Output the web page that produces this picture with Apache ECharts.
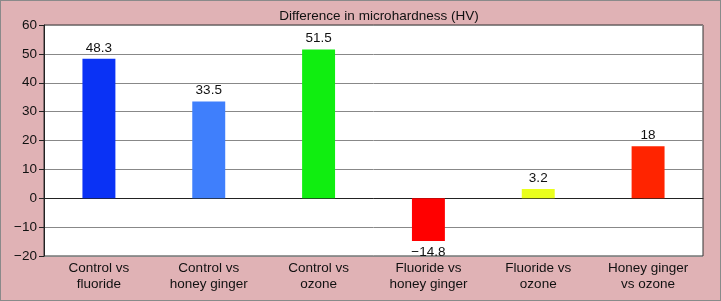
<!DOCTYPE html>
<html><head><meta charset="utf-8">
<script src="https://cdn.jsdelivr.net/npm/echarts@6/dist/echarts.min.js"></script>
<style>html,body{margin:0;padding:0;background:#e0b2b5;}#c{width:721px;height:301px;box-sizing:border-box;border:1px solid #8a8a8a;}</style>
</head><body><div id="c"></div>
<script>
const categories = ["Control vs\nfluoride","Control vs\nhoney ginger","Control vs\nozone","Fluoride vs\nhoney ginger","Fluoride vs\nozone","Honey ginger\nvs ozone"];
const values = [48.3, 33.5, 51.5, -14.8, 3.2, 18];
const barColors = ["#0a32f5","#3f7ffc","#10ee10","#ff0000","#eaff1c","#ff2400"];
const title = "Difference in microhardness (HV)";
const minus = v => String(v).replace('-', '\u2212');
const chart = echarts.init(document.getElementById('c'), null, {renderer:'canvas'});
chart.setOption({
  animation:false,
  backgroundColor:'#e0b2b5',
  title:{text:title,left:373,top:3,textAlign:'center',textStyle:{fontFamily:'Liberation Sans',fontSize:13.5,fontWeight:'normal',color:'#111'}},
  grid:{left:43,right:17,top:24,bottom:44,show:true,backgroundColor:'#fff',borderColor:'#333',borderWidth:1},
  xAxis:{type:'category',data:categories,axisTick:{show:false},axisLine:{lineStyle:{color:'#222'}},
    axisLabel:{fontFamily:'Liberation Sans',fontSize:13.5,color:'#111',lineHeight:15.5,margin:5,interval:0}},
  yAxis:{type:'value',min:-20,max:60,interval:10,
    axisLine:{show:true,lineStyle:{color:'#222'}},
    axisTick:{show:true,length:5,lineStyle:{color:'#222'}},
    splitLine:{lineStyle:{color:'#888'}},
    axisLabel:{fontFamily:'Liberation Sans',fontSize:13.5,color:'#111',margin:7,formatter:minus}},
  series:[{type:'bar',barWidth:'30%',
    data:values.map((v,i)=>({value:v,itemStyle:{color:barColors[i]},label:{position:v<0?'bottom':'top'}})),
    label:{show:true,fontFamily:'Liberation Sans',fontSize:13.5,color:'#111',distance:4,formatter:p=>minus(p.value)}}]
});
</script></body></html>
